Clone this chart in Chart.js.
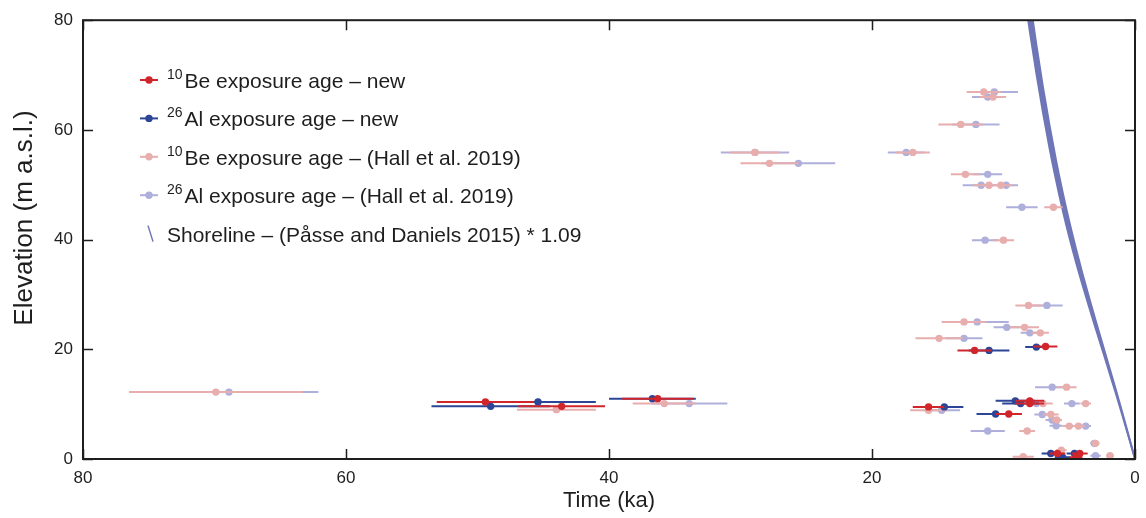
<!DOCTYPE html>
<html lang="en">
<head>
    <meta charset="UTF-8">
    <title>Exposure ages and shoreline</title>
    <script src="https://cdn.jsdelivr.net/npm/chart.js"></script>
    <style>
        body {
            margin: 0;
            background-color: #fff;
        }
        #chart {
            display: block;
        }
    </style>
</head>
<body>
    <canvas id="chart" width="1146" height="518"></canvas>

    <script>
        // 10Be - new samples (age ka, 1 sigma, elevation m)
        var newBeAge  = [49.4, 43.6, 36.3, 15.7, 12.2, 6.8, 8.0, 8.0, 9.6, 5.9, 4.2, 4.5];
        var newBeErr  = [3.7, 3.3, 2.7, 1.2, 1.3, 0.9, 1.1, 1.1, 1.0, 0.6, 0.6, 0.5];
        var newBeElev = [10.4, 9.6, 11.0, 9.5, 19.8, 20.5, 10.6, 10.1, 8.2, 1.0, 1.0, 0.3];

        // 26Al - new samples
        var newAlAge  = [45.4, 49.0, 36.7, 14.5, 11.1, 7.5, 9.1, 8.7, 10.6, 6.4, 5.5, 4.6];
        var newAlErr  = [4.4, 4.5, 3.3, 1.45, 1.55, 0.85, 1.5, 1.4, 1.45, 0.7, 0.6, 0.6];
        var newAlElev = [10.4, 9.6, 11.0, 9.5, 19.8, 20.4, 10.6, 10.1, 8.2, 1.0, 0.3, 1.0];

        // 10Be - Hall et al. 2019
        var hallBeAge  = [69.9, 44.0, 35.8, 28.9, 27.8, 16.9, 15.7, 11.5, 10.8, 13.25, 12.9, 11.1, 10.2, 6.2, 10.0, 8.1,
                          13.0, 8.4, 7.2, 14.9, 5.2, 7.0, 3.75, 6.4, 5.95, 5.0, 4.3, 8.2, 3.0, 5.6, 8.5, 1.9];
        var hallBeErr  = [6.6, 3.0, 2.4, 1.9, 2.2, 1.3, 1.4, 1.3, 1.0, 1.7, 1.1, 1.2, 0.9, 0.7, 0.8, 1.0,
                          1.7, 1.1, 0.65, 1.8, 0.75, 0.75, 0.4, 0.6, 0.4, 0.5, 0.5, 0.6, 0.3, 0.4, 0.8, 0.3];
        var hallBeElev = [12.2, 9.0, 10.1, 55.9, 53.9, 55.9, 8.9, 66.9, 66.0, 61.0, 51.9, 49.9, 49.9, 45.9, 39.9, 28.0,
                          25.0, 24.0, 23.0, 22.0, 13.1, 10.1, 10.1, 8.1, 7.1, 6.0, 6.0, 5.1, 2.85, 1.6, 0.4, 0.6];

        // 26Al - Hall et al. 2019
        var hallAlAge  = [68.9, 33.9, 28.9, 25.6, 17.4, 14.7, 10.7, 11.2, 12.1, 11.2, 11.7, 9.8, 8.6, 11.4, 6.7,
                          12.0, 9.75, 8.0, 13.0, 6.3, 4.8, 7.5, 7.05, 6.3, 6.0, 3.75, 11.2, 3.1, 3.0];
        var hallAlErr  = [6.8, 2.9, 2.6, 2.8, 1.4, 1.4, 1.8, 1.2, 1.8, 1.1, 1.4, 0.9, 1.2, 1.0, 1.2,
                          2.4, 1.0, 0.7, 1.4, 1.3, 0.6, 0.6, 0.6, 0.5, 0.5, 0.4, 1.3, 0.3, 0.4];
        var hallAlElev = [12.2, 10.1, 55.9, 53.9, 55.9, 8.9, 66.9, 66.0, 61.0, 51.9, 49.9, 49.9, 45.9, 39.9, 28.0,
                          25.0, 24.0, 23.0, 22.0, 13.1, 10.1, 10.1, 8.1, 7.1, 6.05, 6.0, 5.1, 2.85, 0.6];

        // shoreline displacement band (ka, m)
        var shoreAge   = [0, 0.5, 1, 1.5, 2, 2.5, 3, 3.5, 4, 4.5, 5, 5.5, 6, 6.5, 7, 7.5, 8, 8.5];
        var shoreLow   = [0, 4.2, 8.3, 12.3, 16.2, 20.05, 23.9, 27.8, 31.8, 36.0, 40.5, 45.4, 50.8, 56.7, 63.2, 70.3, 78.0, 86.4];
        var shoreHigh  = [0, 4.4, 8.75, 13.0, 17.1, 21.2, 25.3, 29.5, 33.8, 38.4, 43.3, 48.6, 54.4, 60.8, 67.8, 75.5, 83.7, 92.8];

        var axisTicks = [0, 20, 40, 60, 80];

        var RED = '#d0262b';
        var BLUE = '#2c4597';
        var PINK = '#e8adad';
        var LAV = '#afafdb';
        var SHORE = '#6f76b7';
        var INK = '#1e1e1e';
        var FONT = "'Liberation Sans', Arial, sans-serif";

        Chart.defaults.font.family = FONT;
        Chart.defaults.color = INK;

        function points(age, elev) {
            return age.map(function (a, i) { return { x: a, y: elev[i] }; });
        }

        // each bar is two points followed by a gap
        function errorBars(age, err, elev) {
            var pts = [];
            for (var i = 0; i < age.length; i++) {
                pts.push({ x: age[i] - err[i], y: elev[i] });
                pts.push({ x: age[i] + err[i], y: elev[i] });
                pts.push({ x: age[i], y: null });
            }
            return pts;
        }

        function barSet(age, err, elev, color, order) {
            return {
                type: 'line',
                data: errorBars(age, err, elev),
                borderColor: color,
                borderWidth: 2,
                pointRadius: 0,
                spanGaps: false,
                order: order
            };
        }

        function pointSet(age, elev, color, order) {
            return {
                type: 'scatter',
                data: points(age, elev),
                backgroundColor: color,
                borderColor: color,
                pointRadius: 3.7,
                borderWidth: 0,
                order: order
            };
        }

        var legendItems = [
            { sup: '10', text: 'Be exposure age \u2013 new', color: RED },
            { sup: '26', text: 'Al exposure age \u2013 new', color: BLUE },
            { sup: '10', text: 'Be exposure age \u2013 (Hall et al. 2019)', color: PINK },
            { sup: '26', text: 'Al exposure age \u2013 (Hall et al. 2019)', color: LAV },
            { sup: '', text: 'Shoreline \u2013 (P\u00e5sse and Daniels 2015) * 1.09', color: SHORE, shore: true }
        ];

        // box, inward ticks, y title and legend
        var decorations = {
            id: 'decorations',
            afterDatasetsDraw: function (chart) {
                var ctx = chart.ctx;
                var a = chart.chartArea;
                var sx = chart.scales.x, sy = chart.scales.y;
                ctx.save();
                ctx.strokeStyle = INK;
                ctx.lineWidth = 2;
                ctx.strokeRect(a.left, a.top, a.right - a.left, a.bottom - a.top);
                ctx.lineWidth = 1.5;
                ctx.beginPath();
                axisTicks.forEach(function (v) {
                    var px = Math.round(sx.getPixelForValue(v)) + 0.5;
                    ctx.moveTo(px, a.bottom); ctx.lineTo(px, a.bottom - 10);
                    ctx.moveTo(px, a.top); ctx.lineTo(px, a.top + 10);
                    var py = Math.round(sy.getPixelForValue(v)) + 0.5;
                    ctx.moveTo(a.left, py); ctx.lineTo(a.left + 10, py);
                    ctx.moveTo(a.right, py); ctx.lineTo(a.right - 10, py);
                });
                ctx.stroke();
                ctx.restore();
            },
            afterDraw: function (chart) {
                var ctx = chart.ctx;
                ctx.save();

                // y axis title
                ctx.translate(25, 218);
                ctx.rotate(-Math.PI / 2);
                ctx.fillStyle = INK;
                ctx.textAlign = 'center';
                ctx.textBaseline = 'middle';
                ctx.font = '26px ' + FONT;
                ctx.fillText('Elevation (m a.s.l.)', 0, 0);
                ctx.restore();

                ctx.save();
                legendItems.forEach(function (item, i) {
                    var y = 80 + i * 38.4;
                    if (item.shore) {
                        ctx.strokeStyle = item.color;
                        ctx.lineWidth = 1.5;
                        ctx.beginPath();
                        ctx.moveTo(148, y - 8);
                        ctx.lineTo(153, y + 8);
                        ctx.stroke();
                    } else {
                        ctx.strokeStyle = item.color;
                        ctx.fillStyle = item.color;
                        ctx.lineWidth = 2;
                        ctx.beginPath();
                        ctx.moveTo(140, y);
                        ctx.lineTo(158, y);
                        ctx.stroke();
                        ctx.beginPath();
                        ctx.arc(149, y, 3.7, 0, Math.PI * 2);
                        ctx.fill();
                    }
                    ctx.fillStyle = INK;
                    ctx.textAlign = 'left';
                    ctx.textBaseline = 'alphabetic';
                    var x = 167;
                    if (item.sup) {
                        ctx.font = '14px ' + FONT;
                        ctx.fillText(item.sup, x, y - 1);
                        x += ctx.measureText(item.sup).width + 2;
                    }
                    ctx.font = '21px ' + FONT;
                    ctx.fillText(item.text, x, y + 8);
                });
                ctx.restore();
            }
        };

        var ctx = document.getElementById('chart').getContext('2d');
        var chart = new Chart(ctx, {
            type: 'scatter',
            data: {
                datasets: [
                    {
                        type: 'line',
                        data: points(shoreAge, shoreLow),
                        borderColor: SHORE,
                        borderWidth: 2,
                        pointRadius: 0,
                        cubicInterpolationMode: 'monotone',
                        order: 20
                    },
                    {
                        type: 'line',
                        data: points(shoreAge, shoreHigh),
                        borderColor: SHORE,
                        backgroundColor: SHORE,
                        borderWidth: 2,
                        pointRadius: 0,
                        cubicInterpolationMode: 'monotone',
                        fill: '-1',
                        order: 19
                    },
                    barSet(hallAlAge, hallAlErr, hallAlElev, LAV, 18),
                    pointSet(hallAlAge, hallAlElev, LAV, 17),
                    barSet(hallBeAge, hallBeErr, hallBeElev, PINK, 16),
                    pointSet(hallBeAge, hallBeElev, PINK, 15),
                    barSet(newAlAge, newAlErr, newAlElev, BLUE, 14),
                    pointSet(newAlAge, newAlElev, BLUE, 13),
                    barSet(newBeAge, newBeErr, newBeElev, RED, 12),
                    pointSet(newBeAge, newBeElev, RED, 11)
                ]
            },
            options: {
                responsive: false,
                animation: false,
                devicePixelRatio: 1,
                layout: {
                    padding: { top: 19, right: 11, left: 0, bottom: 0 }
                },
                plugins: {
                    legend: { display: false },
                    tooltip: { enabled: false }
                },
                scales: {
                    x: {
                        type: 'linear',
                        reverse: true,
                        min: 0,
                        max: 80,
                        afterFit: function (s) { s.height = 59; },
                        afterBuildTicks: function (s) { s.ticks = axisTicks.map(function (v) { return { value: v }; }); },
                        ticks: { font: { size: 17 }, color: INK, padding: 9 },
                        grid: { display: false, drawTicks: false },
                        border: { display: false },
                        title: {
                            display: true,
                            text: 'Time (ka)',
                            font: { size: 22 },
                            color: INK,
                            padding: { top: 0, bottom: 4 }
                        }
                    },
                    y: {
                        type: 'linear',
                        min: 0,
                        max: 80,
                        afterFit: function (s) { s.width = 83; },
                        afterBuildTicks: function (s) { s.ticks = axisTicks.map(function (v) { return { value: v }; }); },
                        ticks: { font: { size: 17 }, color: INK, padding: 10 },
                        grid: { display: false, drawTicks: false },
                        border: { display: false }
                    }
                }
            },
            plugins: [decorations]
        });
    </script>
</body>
</html>
